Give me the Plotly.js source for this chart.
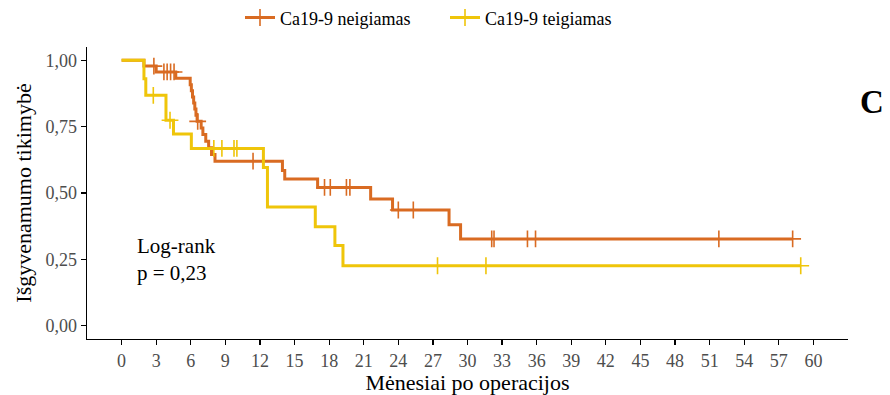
<!DOCTYPE html>
<html>
<head>
<meta charset="utf-8">
<script src="https://cdn.plot.ly/plotly-3.0.1.min.js"></script>
<style>html,body{margin:0;padding:0;background:#fff}#chart{width:890px;height:395px}</style>
</head>
<body>
<div id="chart"></div>
<script>
// Ca19-9 neigiamas (negative) – event times (months) and survival after each event
const negEventTimes = [1.94, 3.0, 4.7, 5.95, 6.05, 6.15, 6.25, 6.35, 6.45, 6.55, 6.9, 7.05, 7.3, 7.55, 7.8, 8.1, 13.95, 14.15, 17.0, 21.6, 23.5, 28.4, 29.4];
const negSurvival   = [0.978, 0.956, 0.932, 0.908, 0.885, 0.862, 0.839, 0.816, 0.793, 0.770, 0.745, 0.720, 0.695, 0.670, 0.645, 0.620, 0.585, 0.553, 0.521, 0.477, 0.436, 0.380, 0.327];
const negCensor     = [2.8, 3.67, 3.95, 4.25, 4.55, 6.6, 11.4, 17.6, 18.1, 19.5, 19.8, 24.0, 25.3, 32.1, 32.3, 35.2, 35.9, 51.8, 58.2];

// Ca19-9 teigiamas (positive)
const posEventTimes = [1.94, 2.1, 3.85, 4.5, 6.05, 12.3, 12.65, 16.8, 18.5, 19.2];
const posSurvival   = [0.930, 0.868, 0.774, 0.722, 0.668, 0.596, 0.447, 0.373, 0.302, 0.226];
const posCensor     = [2.75, 4.2, 8.0, 8.7, 9.75, 10.0, 27.4, 31.6, 58.9];

const seriesNames = ["Ca19-9 neigiamas", "Ca19-9 teigiamas"];
const seriesColors = ["#D96B22", "#EFC50A"];

const xTickVals = [0,3,6,9,12,15,18,21,24,27,30,33,36,39,42,45,48,51,54,57,60];
const yTickVals = [0, 0.25, 0.5, 0.75, 1];
const yTickText = ["0,00", "0,25", "0,50", "0,75", "1,00"];

function survAt(times, surv, t) {
  let s = 1;
  for (let i = 0; i < times.length; i++) { if (times[i] <= t) s = surv[i]; }
  return s;
}
function stepTrace(times, surv, censor, color) {
  const tEnd = Math.max(...censor, ...times);
  const x = [0].concat(times, [tEnd]);
  const y = [1].concat(surv, [surv[surv.length - 1]]);
  return {x: x, y: y, type: 'scatter', mode: 'lines', line: {shape: 'hv', color: color, width: 3}, showlegend: false, hoverinfo: 'skip'};
}
function censorTrace(times, surv, censor, color) {
  return {x: censor, y: censor.map(t => survAt(times, surv, t)), type: 'scatter', mode: 'markers',
    marker: {symbol: 'cross-thin-open', size: 12, color: color, line: {color: color, width: 1.6}}, showlegend: false, hoverinfo: 'skip'};
}
function legendTrace(name, color) {
  return {x: [null], y: [null], type: 'scatter', mode: 'lines+markers', name: name,
    line: {color: color, width: 3}, marker: {symbol: 'cross-thin-open', size: 12, color: color, line: {color: color, width: 1.6}}};
}

const serif = "Liberation Serif, Times New Roman, serif";
const data = [
  stepTrace(negEventTimes, negSurvival, negCensor, seriesColors[0]),
  stepTrace(posEventTimes, posSurvival, posCensor, seriesColors[1]),
  censorTrace(negEventTimes, negSurvival, negCensor, seriesColors[0]),
  censorTrace(posEventTimes, posSurvival, posCensor, seriesColors[1]),
  legendTrace(seriesNames[0], seriesColors[0]),
  legendTrace(seriesNames[1], seriesColors[1])
];

const layout = {
  width: 890, height: 395,
  margin: {l: 87, r: 42, t: 47, b: 56},
  paper_bgcolor: '#fff', plot_bgcolor: '#fff',
  font: {family: serif, size: 18, color: '#000'},
  showlegend: true,
  legend: {orientation: 'h', xref: 'container', yref: 'container', x: 0.5, xanchor: 'center', y: 0.955, yanchor: 'middle',
    font: {family: serif, size: 18, color: '#000'}, itemwidth: 30, traceorder: 'normal',
    entrywidth: 160, entrywidthmode: 'pixels'},
  xaxis: {range: [-3, 63], tickvals: xTickVals, ticks: 'outside', ticklen: 5, tickwidth: 1.2, tickcolor: '#000',
    showline: true, linecolor: '#000', linewidth: 1.3, showgrid: false, zeroline: false,
    tickfont: {family: serif, size: 18, color: '#4d4d4d'},
    title: {text: 'Mėnesiai po operacijos', font: {family: serif, size: 22, color: '#000'}, standoff: 4}},
  yaxis: {range: [-0.05, 1.05], tickvals: yTickVals, ticktext: yTickText, ticks: 'outside', ticklen: 5, tickwidth: 1.2, tickcolor: '#000',
    showline: true, linecolor: '#000', linewidth: 1.3, showgrid: false, zeroline: false,
    tickfont: {family: serif, size: 18, color: '#4d4d4d'},
    title: {text: 'Išgyvenamumo tikimybė', font: {family: serif, size: 22, color: '#000'}, standoff: 8}},
  annotations: [
    {xref: 'x', yref: 'y', x: 1.2, y: 0.25, xanchor: 'left', yanchor: 'middle', align: 'left', showarrow: false,
      text: 'Log-rank<br>p = 0,23', font: {family: serif, size: 21, color: '#000'}},
    {xref: 'paper', yref: 'paper', x: 1.0315, y: 0.811, xanchor: 'center', yanchor: 'middle', showarrow: false,
      text: '<b>C</b>', font: {family: serif, size: 33, color: '#000'}}
  ]
};

Plotly.newPlot('chart', data, layout, {displayModeBar: false, staticPlot: true});
</script>
</body>
</html>
